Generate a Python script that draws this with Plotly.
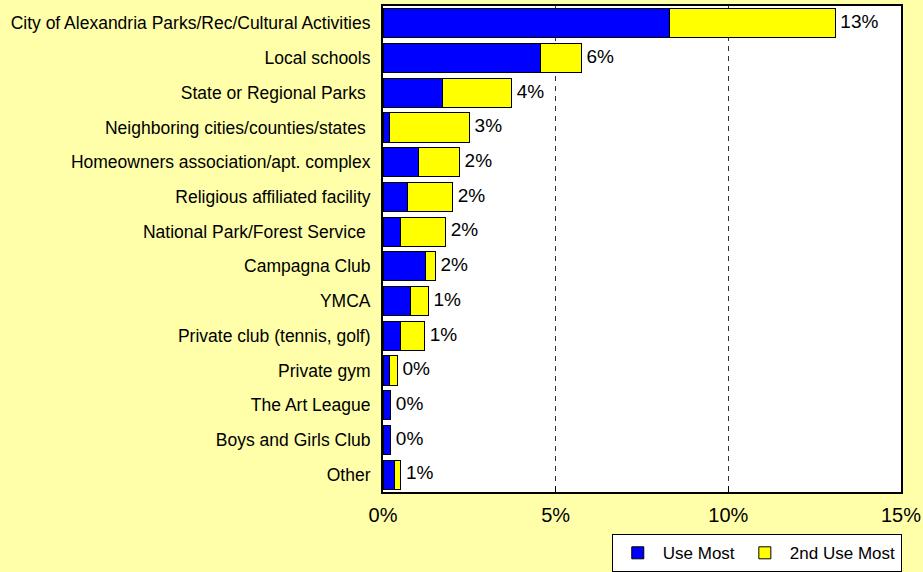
import plotly.graph_objects as go

categories = [
    "City of Alexandria Parks/Rec/Cultural Activities",
    "Local schools",
    "State or Regional Parks ",
    "Neighboring cities/counties/states ",
    "Homeowners association/apt. complex",
    "Religious affiliated facility",
    "National Park/Forest Service ",
    "Campagna Club",
    "YMCA",
    "Private club (tennis, golf)",
    "Private gym",
    "The Art League",
    "Boys and Girls Club",
    "Other",
]
use_most = [8.29, 4.55, 1.71, 0.20, 1.02, 0.71, 0.51, 1.22, 0.80, 0.51, 0.20, 0.22, 0.22, 0.32]
second_use = [4.80, 1.19, 2.01, 2.30, 1.19, 1.30, 1.30, 0.29, 0.51, 0.69, 0.21, 0.0, 0.0, 0.19]
labels = ["13%", "6%", "4%", "3%", "2%", "2%", "2%", "2%", "1%", "1%", "0%", "0%", "0%", "1%"]
x_ticks = [0, 5, 10, 15]
x_tick_labels = ["0%", "5%", "10%", "15%"]

totals = [a + b for a, b in zip(use_most, second_use)]

fig = go.Figure()
fig.add_trace(go.Bar(
    y=categories, x=use_most, orientation="h", name="Use Most",
    marker=dict(color="#0000FF", line=dict(color="#000000", width=1)),
))
fig.add_trace(go.Bar(
    y=categories, x=second_use, orientation="h", name="2nd Use Most",
    marker=dict(color="#FFFF00", line=dict(color="#000000", width=1)),
))
fig.add_trace(go.Scatter(
    y=categories, x=totals, mode="text", text=labels,
    texttemplate=" %{text}",
    textposition="middle right", showlegend=False, hoverinfo="skip",
    textfont=dict(family="Liberation Sans, Arial", size=19, color="#000000"),
    cliponaxis=False,
))

fig.update_layout(
    width=923, height=572,
    barmode="stack", bargap=0.16,
    paper_bgcolor="#FFFFAA", plot_bgcolor="#FFFFFF",
    margin=dict(l=383, r=22, t=6, b=80, autoexpand=False),
    font=dict(family="Liberation Sans, Arial", size=17, color="#000000"),
    xaxis=dict(
        range=[0, 15], tickvals=x_ticks, ticktext=x_tick_labels,
        showgrid=True, gridcolor="#333333", gridwidth=1, griddash="5px,5px",
        ticks="inside", ticklen=6, tickcolor="#000000",
        showline=True, linecolor="#000000", linewidth=2, mirror=True,
        tickfont=dict(size=20), zeroline=False, fixedrange=True,
        ticklabelstandoff=4, automargin=False,
    ),
    yaxis=dict(
        range=[len(categories) - 0.5, -0.5],
        showline=True, linecolor="#000000", linewidth=2,
        mirror=True, ticks="", showgrid=False,
        tickfont=dict(size=17.5), fixedrange=True, ticklabelstandoff=7,
        automargin=False,
    ),
    legend=dict(
        orientation="h", xref="container", yref="container",
        x=0.977, xanchor="right", y=0.066, yanchor="top",
        bgcolor="#FFFFFF", bordercolor="#000000", borderwidth=1,
        font=dict(size=17), itemwidth=40, tracegroupgap=0,
        traceorder="normal",
    ),
)

fig.write_html("out.html", config={"displayModeBar": False},
               post_script="document.body.style.margin='0px';")
